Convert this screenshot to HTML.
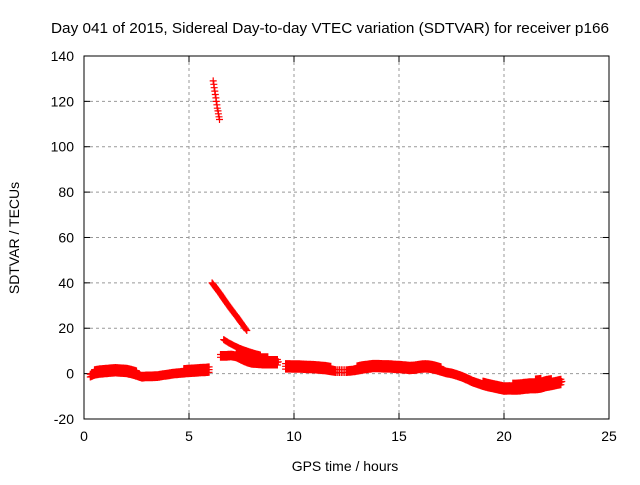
<!DOCTYPE html>
<html><head><meta charset="utf-8"><style>
body{margin:0;background:#fff;width:640px;height:480px;overflow:hidden}
text{font-family:"Liberation Sans",sans-serif;font-size:14px;fill:#000}
</style></head><body>
<svg id="chart" width="640" height="480" xmlns="http://www.w3.org/2000/svg">
<text x="330" y="33" text-anchor="middle" textLength="558" lengthAdjust="spacingAndGlyphs" style="font-size:15px">Day 041 of 2015, Sidereal Day-to-day VTEC variation (SDTVAR) for receiver p166</text>
<text x="345" y="471" text-anchor="middle">GPS time / hours</text>
<text transform="translate(19,238) rotate(-90)" text-anchor="middle">SDTVAR / TECUs</text>
<g id="grid"></g><g id="ticks"></g><g id="marks"></g>
<rect x="84" y="56" width="525" height="363" fill="none" stroke="#000" stroke-width="1"/>
</svg>
<script>
const xTicks=[0,5,10,15,20,25];
const yTicks=[-20,0,20,40,60,80,100,120,140];
// main band: time, centre value, half-thickness
const mainT=[0.3,0.5,0.75,1,1.25,1.5,1.75,2,2.25,2.5,2.75,3,3.25,3.5,3.75,4,4.25,4.5,4.75,5,5.25,5.5,5.75,6,9.6,9.8,10,10.25,10.5,10.75,11,11.25,11.5,11.75,12,12.5,12.75,13,13.25,13.5,13.75,14,14.25,14.5,14.75,15,15.25,15.5,15.75,16,16.25,16.5,16.75,17,17.25,17.5,17.75,18,18.25,18.5,18.75,19,19.25,19.5,19.75,20,20.25,20.5,20.75,21,21.25,21.5,21.75,22,22.25,22.5,22.75];
const mainV=[-0.5,0.5,1.2,1.5,1.7,1.8,1.5,1.3,0.8,0,-1,-0.8,-0.8,-0.7,-0.3,0,0.4,0.7,1,1.3,1.5,1.7,1.8,2,3.5,3.6,3.5,3.4,3.3,3.2,3,2.8,2.5,2,1.5,1.5,1.8,2.2,2.8,3.2,3.5,3.5,3.4,3.3,3.1,3,2.8,2.5,2.6,3,3.2,3,2.5,1.8,1,0.5,-0.2,-1,-2,-3,-3.8,-4.5,-5,-5.5,-6,-6.5,-6.2,-5.8,-5.5,-5.2,-5,-4.8,-4.5,-4.2,-4,-3.8,-3.5];
const mainS=[1,1.2,1.5,1.6,1.6,1.5,1.4,1.3,1.3,1.2,1,1,1,1,1,1,1,1.1,1.2,1.3,1.4,1.4,1.4,1.4,1.5,1.6,1.6,1.5,1.5,1.5,1.4,1.4,1.3,1.2,1,1,1.1,1.2,1.3,1.4,1.4,1.4,1.4,1.3,1.3,1.3,1.3,1.2,1.2,1.2,1.2,1.2,1.2,1.2,1.1,1,1,1,1,1.1,1.1,1.2,1.3,1.3,1.3,1.3,1.5,2,2.2,2.2,2.2,2.4,2.4,2,1.8,1.5,1.3];
// disturbed arcs after 6 h
const arcAT=[6.5,6.75,7,7.25,7.5,7.75,8,8.25,8.5,8.75,9,9.25];
const arcAV=[8,8.2,8.4,8.2,7.8,7.2,6.5,6.2,5.8,5.6,5.4,5.2];
const arcAS=[0.8,1,1,1.2,2,2.4,2.4,2.2,2,1.8,1.6,1.4];
const arcBT=[6.65,6.9,7.15,7.4,7.65,7.9,8.15,8.4];
const arcBV=[15,13.5,12.3,11.2,10.3,9.5,8.8,8.2];
const arcCT=[6.1,6.3,6.5,6.7,6.9,7.1,7.3,7.5,7.75];
const arcCV=[40,37.5,35,32.3,29.7,27.2,24.8,22.2,19];
const arcDT=[6.15,6.18,6.2,6.23,6.25,6.28,6.3,6.33,6.35,6.38,6.4,6.43,6.45];
const arcDV=[129,127.5,126,124.5,123,121.5,120,118.5,117,115.8,114.5,113.2,112];
const X=t=>84+t*21, Y=v=>373.6-v*363/160;
const NS='http://www.w3.org/2000/svg';
const grid=document.getElementById('grid'),ticks=document.getElementById('ticks'),marks=document.getElementById('marks');
function mk(tag,a,p){const e=document.createElementNS(NS,tag);for(const k in a)e.setAttribute(k,a[k]);p.appendChild(e);return e;}
xTicks.forEach(t=>{const x=X(t);
 if(t>0&&t<25){const g=mk('line',{x1:x,x2:x,y1:56,y2:419,stroke:'#999','stroke-dasharray':'3,3'},grid);
 
 }
 mk('line',{x1:x,x2:x,y1:419,y2:413,stroke:'#000'},ticks);mk('line',{x1:x,x2:x,y1:56,y2:62,stroke:'#000'},ticks);
 const l=mk('text',{x:x,y:441,'text-anchor':'middle'},ticks);l.textContent=t;
 
 });
yTicks.forEach(v=>{const y=Y(v);
 if(v>-20&&v<140){const g=mk('line',{x1:84,x2:609,y1:y,y2:y,stroke:'#999','stroke-dasharray':'3,3'},grid);
 
 }
 mk('line',{x1:84,x2:90,y1:y,y2:y,stroke:'#000'},ticks);mk('line',{x1:603,x2:609,y1:y,y2:y,stroke:'#000'},ticks);
 const l=mk('text',{x:74,y:y+5,'text-anchor':'end'},ticks);l.textContent=v;
 
 });
let d='';
function plus(t,v){const x=X(t),y=Y(v);d+=`M${(x-3.5).toFixed(1)} ${y.toFixed(1)}h7M${x.toFixed(1)} ${(y-3.5).toFixed(1)}v7`;}
function band(T,V,S,step){for(let i=0;i<T.length-1;i++){const n=6;for(let k=0;k<n;k++){const f=k/n;const t=T[i]+(T[i+1]-T[i])*f;
 if(T[i+1]-T[i]>1)break;const v=V[i]+(V[i+1]-V[i])*f,s=(S?S[i]+(S[i+1]-S[i])*f:0);
 for(let o=-s;o<=s+0.01;o+=Math.max(step,0.5))plus(t,v+o);if(!s)plus(t,v);}}plus(T[T.length-1],V[V.length-1]);}
band(mainT,mainV,mainS,1.2);band(arcAT,arcAV,arcAS,1.2);band(arcBT,arcBV,null,1);band(arcCT,arcCV,null,1);
arcDT.forEach((t,i)=>plus(t,arcDV[i]));
const p=mk('path',{d:d,stroke:'#f00','stroke-width':1.2,fill:'none'},marks);


</script>
</body></html>
